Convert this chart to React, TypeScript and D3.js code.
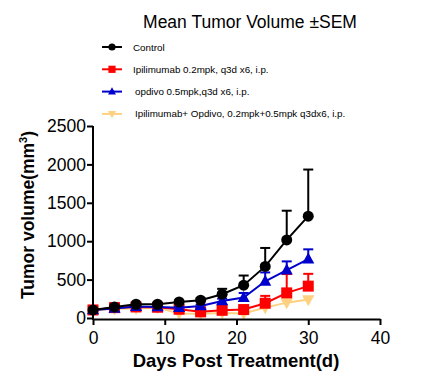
import React, { useRef, useEffect } from 'react';
import * as d3 from 'd3';

// days post treatment
const days = [0, 3, 6, 9, 12, 15, 18, 21, 24, 27, 30];

// mean tumor volume (mm3) per group
const controlMean = [105, 144, 179, 179, 209, 231, 310, 428, 672, 1017, 1326];
const controlSem = [5, 8, 10, 12, 15, 25, 70, 125, 240, 380, 607];

const ipiMean = [105, 135, 144, 140, 114, 80, 100, 110, 192, 327, 415];
const ipiSem = [5, 6, 8, 10, 10, 10, 12, 15, 96, 245, 160];

const opdivoMean = [105, 125, 150, 144, 135, 157, 222, 266, 478, 624, 768];
const opdivoSem = [5, 6, 8, 8, 10, 15, 30, 60, 115, 113, 126];

const comboMean = [100, 120, 125, 135, 60, 55, 65, 60, 135, 200, 240];
const comboSem = [5, 5, 6, 8, 6, 6, 8, 10, 20, 25, 30];

const seriesNames = [
  'Control',
  'Ipilimumab 0.2mpk, q3d x6, i.p.',
  'opdivo 0.5mpk,q3d x6, i.p.',
  'Ipilimumab+ Opdivo, 0.2mpk+0.5mpk q3dx6, i.p.',
];

const xTicks = [0, 10, 20, 30, 40];
const yTicks = [0, 500, 1000, 1500, 2000, 2500];

const App = () => {
  const svgRef = useRef<SVGSVGElement>(null);

  useEffect(() => {
    const svg = d3.select(svgRef.current);
    svg.selectAll('*').remove();

    const font = 'Liberation Sans, Arial, sans-serif';
    const x = d3.scaleLinear().domain([0, 40]).range([93, 380]);
    const y = d3.scaleLinear().domain([0, 2500]).range([318, 126]);

    const series = [
      { name: seriesNames[0], mean: controlMean, sem: controlSem, color: '#000000', symbol: 'circle' },
      { name: seriesNames[1], mean: ipiMean, sem: ipiSem, color: '#FF0000', symbol: 'square' },
      { name: seriesNames[2], mean: opdivoMean, sem: opdivoSem, color: '#0000CC', symbol: 'up' },
      { name: seriesNames[3], mean: comboMean, sem: comboSem, color: '#FDD17F', symbol: 'down' },
    ];

    const drawMarker = (g: any, cx: number, cy: number, symbol: string, color: string, s: number) => {
      if (symbol === 'circle') {
        g.append('circle').attr('cx', cx).attr('cy', cy).attr('r', s).attr('fill', color);
      } else if (symbol === 'square') {
        g.append('rect').attr('x', cx - s).attr('y', cy - s).attr('width', s * 2).attr('height', s * 2).attr('fill', color);
      } else if (symbol === 'up') {
        g.append('path')
          .attr('d', `M${cx},${cy - s * 1.2}L${cx + s * 1.1},${cy + s * 0.8}L${cx - s * 1.1},${cy + s * 0.8}Z`)
          .attr('fill', color);
      } else {
        g.append('path')
          .attr('d', `M${cx},${cy + s * 1.2}L${cx + s * 1.1},${cy - s * 0.8}L${cx - s * 1.1},${cy - s * 0.8}Z`)
          .attr('fill', color);
      }
    };

    // title
    svg
      .append('text')
      .attr('x', 250)
      .attr('y', 28)
      .attr('text-anchor', 'middle')
      .style('font-family', font)
      .style('font-size', '17.5px')
      .text('Mean Tumor Volume ±SEM');

    // legend
    const legend = svg.append('g');
    series.forEach((s, i) => {
      const ly = 47 + i * 22.3;
      legend.append('line').attr('x1', 102).attr('x2', 122).attr('y1', ly).attr('y2', ly).attr('stroke', s.color).attr('stroke-width', 2);
      drawMarker(legend, 112, ly, s.symbol, s.color, 3.6);
      legend
        .append('text')
        .attr('x', i >= 2 ? 135 : 133)
        .attr('y', ly + 3.5)
        .style('font-family', font)
        .style('font-size', '9.8px')
        .text(s.name);
    });

    // series, drawn back to front
    const line = d3
      .line<number>()
      .x((_, i) => x(days[i]))
      .y((d) => y(d));

    [3, 1, 2, 0].forEach((idx) => {
      const s = series[idx];
      const g = svg.append('g');
      // upper error bars
      s.mean.forEach((m, i) => {
        const cx = x(days[i]);
        const top = y(m + s.sem[i]);
        g.append('line').attr('x1', cx).attr('x2', cx).attr('y1', y(m)).attr('y2', top).attr('stroke', s.color).attr('stroke-width', 2);
        g.append('line').attr('x1', cx - 5).attr('x2', cx + 5).attr('y1', top).attr('y2', top).attr('stroke', s.color).attr('stroke-width', 2);
      });
      g.append('path').datum(s.mean).attr('d', line).attr('fill', 'none').attr('stroke', s.color).attr('stroke-width', 2);
      s.mean.forEach((m, i) => drawMarker(g, x(days[i]), y(m), s.symbol, s.color, 5.5));
    });

    // axes
    const xAxis = svg
      .append('g')
      .attr('transform', 'translate(0,319)')
      .call(d3.axisBottom(x).tickValues(xTicks).tickFormat(d3.format('d')).tickSize(6).tickSizeOuter(0));
    const yAxis = svg
      .append('g')
      .attr('transform', 'translate(93,0)')
      .call(d3.axisLeft(y).tickValues(yTicks).tickFormat(d3.format('d')).tickSize(6).tickSizeOuter(0));
    [xAxis, yAxis].forEach((a) => {
      a.select('.domain').attr('stroke', '#000').attr('stroke-width', 2);
      a.selectAll('.tick line').attr('stroke', '#000').attr('stroke-width', 2);
      a.selectAll('text').style('font-family', font).style('font-size', '17.5px').attr('fill', '#000');
    });
    yAxis.select('.domain').attr('d', 'M0,126V320');
    yAxis.selectAll('text').attr('x', -7);
    xAxis.selectAll('text').attr('dy', '0.9em');

    // axis titles
    svg
      .append('text')
      .attr('x', 236)
      .attr('y', 367)
      .attr('text-anchor', 'middle')
      .style('font-family', font)
      .style('font-size', '18.5px')
      .style('font-weight', 'bold')
      .text('Days Post Treatment(d)');

    const yl = svg
      .append('text')
      .attr('transform', 'translate(34,215) rotate(-90)')
      .attr('text-anchor', 'middle')
      .style('font-family', font)
      .style('font-size', '17.5px')
      .style('font-weight', 'bold');
    yl.append('tspan').text('Tumor volume(mm');
    yl.append('tspan').attr('dy', -7).style('font-size', '11px').text('3');
    yl.append('tspan').attr('dy', 7).text(')');
  }, []);

  return <svg ref={svgRef} width={438} height={384} style={{ position: 'absolute', left: 0, top: 0 }}></svg>;
};

export default App;
